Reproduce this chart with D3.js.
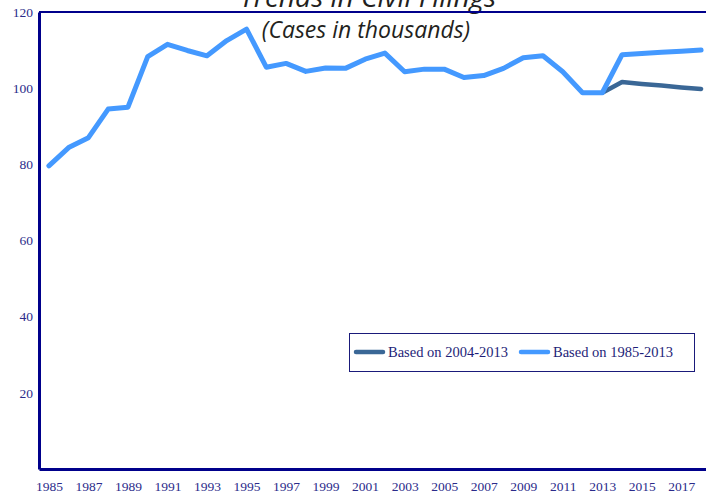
<!DOCTYPE html>
<html>
<head>
<meta charset="utf-8">
<script src="https://cdn.jsdelivr.net/npm/d3@7"></script>
<style>
  body { margin: 0; background: #fff; }
  svg { display: block; }
</style>
</head>
<body>
<svg id="chart" width="706" height="497"></svg>
<script>
// Datos del gráfico (miles de casos)
const years = [1985, 1986, 1987, 1988, 1989, 1990, 1991, 1992, 1993, 1994, 1995, 1996,
  1997, 1998, 1999, 2000, 2001, 2002, 2003, 2004, 2005, 2006, 2007, 2008, 2009, 2010,
  2011, 2012, 2013, 2014, 2015, 2016, 2017, 2018];
const basedOn1985 = [79.6, 84.4, 87.0, 94.5, 95.0, 108.3, 111.5, 109.9, 108.5, 112.5, 115.5, 105.5,
  106.5, 104.4, 105.3, 105.2, 107.6, 109.2, 104.3, 105.0, 105.0, 102.8, 103.3, 105.2, 108.0, 108.5,
  104.3, 98.8, 98.8, 108.8, 109.1, 109.4, 109.7, 110.0];
const years2004 = [2013, 2014, 2015, 2016, 2017, 2018];
const basedOn2004 = [98.8, 101.6, 101.1, 100.7, 100.2, 99.8];

const xTicks = [1985, 1987, 1989, 1991, 1993, 1995, 1997, 1999, 2001, 2003, 2005, 2007,
  2009, 2011, 2013, 2015, 2017];
const yTicks = [20, 40, 60, 80, 100, 120];
const legendLabels = ['Based on 2004-2013', 'Based on 1985-2013'];

const svg = d3.select('#chart');
const axisColor = '#00008b';
const labelColor = '#2b2b8a';
const colors = ['#3a6796', '#4499ff'];

const plotLeft = 39, plotRight = 711, plotTop = 12, plotBottom = 469;

const x = d3.scaleLinear().domain([1984.5, 2018.5]).range([plotLeft, plotRight]);
const y = d3.scaleLinear().domain([0, 120]).range([plotBottom, plotTop]);

// Títulos (el principal queda cortado arriba, igual que en el original)
svg.append('text')
  .attr('x', 368).attr('y', 7)
  .attr('text-anchor', 'middle')
  .style('font-family', '"Open Sans", sans-serif')
  .style('font-style', 'italic')
  .style('font-size', '28px')
  .style('fill', '#231f20')
  .text('Trends in Civil Filings');

svg.append('text')
  .attr('x', 366).attr('y', 38)
  .attr('text-anchor', 'middle')
  .style('font-family', '"Open Sans", sans-serif')
  .style('font-style', 'italic')
  .style('font-size', '23px')
  .style('fill', '#231f20')
  .text('(Cases in thousands)');

// Borde superior
svg.append('line')
  .attr('x1', plotLeft).attr('x2', plotRight)
  .attr('y1', plotTop).attr('y2', plotTop)
  .attr('stroke', axisColor).attr('stroke-width', 2);

const xAxis = svg.append('g')
  .attr('transform', `translate(0,${plotBottom})`)
  .call(d3.axisBottom(x).tickValues(xTicks).tickFormat(d3.format('d'))
    .tickSize(0).tickSizeOuter(0).tickPadding(12));

const yAxis = svg.append('g')
  .attr('transform', `translate(${plotLeft},0)`)
  .call(d3.axisLeft(y).tickValues(yTicks).tickSize(0).tickSizeOuter(0).tickPadding(6));

[xAxis, yAxis].forEach(g => {
  g.select('.domain').attr('stroke', axisColor).attr('stroke-width', 3);
  g.selectAll('text')
    .style('font-family', '"Liberation Serif", "Times New Roman", serif')
    .style('font-size', '13.5px')
    .attr('fill', labelColor);
});

const line = d3.line().x(d => x(d[0])).y(d => y(d[1]));

svg.append('path')
  .datum(d3.zip(years2004, basedOn2004))
  .attr('fill', 'none')
  .attr('stroke', colors[0])
  .attr('stroke-width', 4.5)
  .attr('stroke-linejoin', 'round')
  .attr('stroke-linecap', 'round')
  .attr('d', line);

svg.append('path')
  .datum(d3.zip(years, basedOn1985))
  .attr('fill', 'none')
  .attr('stroke', colors[1])
  .attr('stroke-width', 5)
  .attr('stroke-linejoin', 'round')
  .attr('stroke-linecap', 'round')
  .attr('d', line);

// Leyenda
const legend = svg.append('g');
legend.append('rect')
  .attr('x', 349.5).attr('y', 333.5)
  .attr('width', 345).attr('height', 38)
  .attr('fill', '#fff')
  .attr('stroke', '#1a1a7a').attr('stroke-width', 1);

const legendX = [356, 521];
legendLabels.forEach((label, i) => {
  legend.append('line')
    .attr('x1', legendX[i]).attr('x2', legendX[i] + 27)
    .attr('y1', 352).attr('y2', 352)
    .attr('stroke', colors[i]).attr('stroke-width', 4.5)
    .attr('stroke-linecap', 'round');
  legend.append('text')
    .attr('x', legendX[i] + 32).attr('y', 357)
    .style('font-family', '"Liberation Serif", "Times New Roman", serif')
    .style('font-size', '14.5px')
    .attr('fill', '#1e1e78')
    .text(label);
});
</script>
</body>
</html>
